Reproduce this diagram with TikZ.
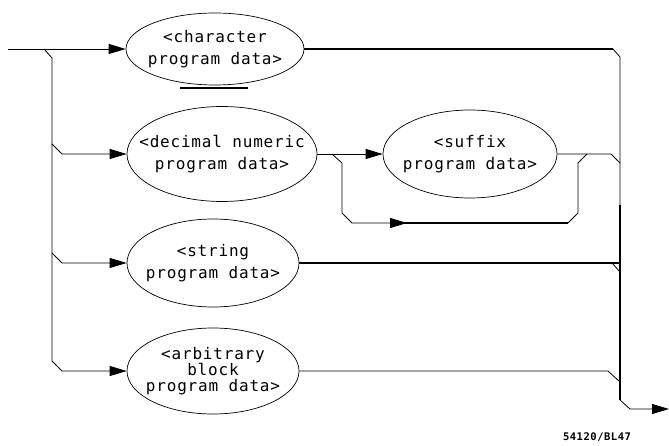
\documentclass[tikz,border=0pt]{standalone}
\usepackage{fontspec}
\usetikzlibrary{shapes.geometric,arrows.meta}
\newfontfamily\plotfont[LetterSpace=5,RawFeature=-liga]{DejaVu Sans Mono}
\tikzset{
  oval/.style={draw,ellipse,line width=0.7pt,inner sep=0pt},
  lbl/.style={font=\plotfont\fontsize{16}{22}\selectfont,align=center},
  wire/.style={line width=0.8pt},
  heavy/.style={line width=2.8pt},
  arr/.style={-{Triangle[length=17pt,width=10pt]}}
}
\begin{document}
\begin{tikzpicture}[x=1pt,y=-1pt]
\useasboundingbox (0,0) rectangle (669,446);
\node[oval,minimum width=178pt,minimum height=72pt] (chr) at (215,49) {};
\node[oval,minimum width=190pt,minimum height=95pt] (dec) at (222,154) {};
\node[oval,minimum width=174pt,minimum height=88pt] (suf) at (470,154) {};
\node[oval,minimum width=172pt,minimum height=88pt] (str) at (213,263) {};
\node[oval,minimum width=172pt,minimum height=86pt] (arb) at (213,371) {};
\node[lbl] at (chr) {<character\\program data>};
\node[lbl] at (dec) {<decimal numeric\\program data>};
\node[lbl] at (suf) {<suffix\\program data>};
\node[lbl] at (str) {<string\\program data>};
\node[lbl,font=\plotfont\fontsize{16}{15.5}\selectfont] at (arb) {<arbitrary\\block\\program data>};
\node[font=\plotfont\fontsize{10.5}{10}\selectfont\bfseries] (fig) at (597,437) {54120/BL47};
\coordinate (in) at (8,49);
\coordinate (fork) at (44,49);
\coordinate (out) at (669,409);
\draw[wire,arr] (in) -- (chr.west);
\draw[wire,arr] (fork) -- (52,58) -- (52,361) -- (62,371) -- (arb.west);
\draw[wire,arr] (52,144) -- (62,154) -- (dec.west);
\draw[wire,arr] (52,253) -- (62,263) -- (str.west);
\draw[wire,arr] (dec.east) -- (suf.west);
\draw[wire,arr] (332,154) -- (342,163) -- (342,213) -- (352,223) -- (407,223);
\draw[heavy] (404,223) -- (568,223);
\draw[wire] (568,223) -- (578,213) -- (578,163) -- (587,154);
\draw[wire] (suf.east) -- (611,154) -- (620,163);
\draw[heavy] (chr.east) -- (613,49);
\draw[wire] (613,49) -- (620,57) -- (620,205);
\draw[heavy] (620,205) -- (620,400);
\draw[heavy] (str.east) -- (620,263);
\draw[wire] (612,263) -- (620,272);
\draw[wire] (arb.east) -- (608,371) -- (620,382);
\draw[wire,arr] (620,400) -- (630,409) -- (out);
\draw[heavy] (180,88) -- (248,88);
\end{tikzpicture}
\end{document}
